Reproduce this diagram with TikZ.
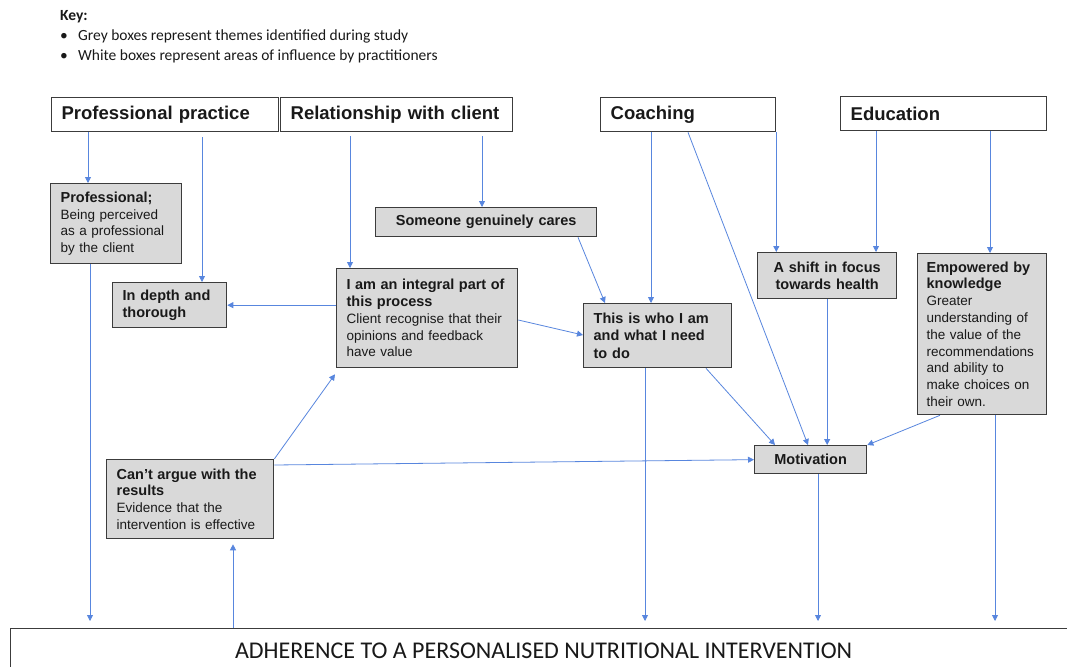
\documentclass[tikz,border=0pt]{standalone}
\usepackage{fontspec}
\setmainfont{Liberation Sans}
\newfontfamily\keyfont{Carlito}
\usetikzlibrary{arrows.meta,calc}
\definecolor{boxgrey}{RGB}{217,217,217}
\definecolor{edgegrey}{RGB}{60,60,60}
\definecolor{arrowblue}{RGB}{88,134,222}
\definecolor{ink}{RGB}{25,25,25}
\begin{document}
\begin{tikzpicture}[x=1pt,y=-1pt,
  wbox/.style={draw=edgegrey, line width=1.3pt, fill=white, anchor=north west, inner xsep=10pt, inner ysep=0pt, align=left, font=\bfseries\fontsize{18.5}{22}\selectfont, text=ink},
  gbox/.style={draw=edgegrey, line width=1.3pt, fill=boxgrey, anchor=north west, inner xsep=10pt, inner ysep=0pt, align=left, font=\fontsize{13.5}{16.8}\selectfont, text=ink},
  tbox/.style={gbox, font=\bfseries\fontsize{14.5}{17.5}\selectfont},
  arr/.style={draw=arrowblue, line width=0.8pt, -{Triangle[length=6pt,width=6pt]}},
  keytext/.style={anchor=base west, inner sep=0pt, font=\keyfont\fontsize{15.5}{18}\selectfont, text=ink},
]
\useasboundingbox (0,0) rectangle (1067,666);
\clip (0,0) rectangle (1067,666);
\fill[white] (0,0) rectangle (1067,666);

% key
\node[keytext, font=\keyfont\bfseries\fontsize{15.5}{18}\selectfont] (key) at (60,21) {Key:};
\node[keytext] (k1b) at (60,41) {•};
\node[keytext] (k1) at (78,41) {Grey boxes represent themes identified during study};
\node[keytext] (k2b) at (60,61) {•};
\node[keytext] (k2) at (78,61) {White boxes represent areas of influence by practitioners};

% white boxes
\node[wbox, minimum width=227pt, minimum height=34pt, text width=207pt] (pp) at (51,97) {Professional practice};
\node[wbox, minimum width=232pt, minimum height=34pt, text width=212pt] (rc) at (280,97) {Relationship with client};
\node[wbox, minimum width=175pt, minimum height=34pt, text width=155pt] (co) at (600,97) {Coaching};
\node[wbox, minimum width=206pt, minimum height=34pt, text width=186pt] (ed) at (840,96) {Education};

% grey boxes
\node[gbox, minimum width=131pt, minimum height=80pt, text width=111pt] (prof) at (50,183)
  {\textbf{\fontsize{14.5}{17}\selectfont Professional;}\\Being perceived\\as a professional\\by the client};
\node[tbox, minimum width=114pt, minimum height=45pt, text width=94pt] (dep) at (112,282)
  {In depth and\\thorough};
\node[tbox, minimum width=221pt, minimum height=29pt, text width=201pt, align=center] (sgc) at (375,207)
  {Someone genuinely cares};
\node[gbox, minimum width=181pt, minimum height=99pt, text width=161pt] (int) at (336,268)
  {\textbf{\fontsize{14.5}{17}\selectfont I am an integral part of}\\\textbf{\fontsize{14.5}{17}\selectfont this process}\\Client recognise that their\\opinions and feedback\\have value};
\node[tbox, minimum width=148pt, minimum height=64pt, text width=128pt] (who) at (583,303)
  {This is who I am\\and what I need\\to do};
\node[tbox, minimum width=139pt, minimum height=46pt, text width=119pt, align=center] (shift) at (757,252)
  {A shift in focus\\towards health};
\node[gbox, minimum width=129pt, minimum height=161pt, text width=111pt, inner xsep=9pt] (emp) at (917,253)
  {\textbf{\fontsize{14.5}{17}\selectfont Empowered by}\\\textbf{\fontsize{14.5}{17}\selectfont knowledge}\\Greater\\understanding of\\the value of the\\recommendations\\and ability to\\make choices on\\their own.};
\node[tbox, minimum width=112pt, minimum height=28pt, text width=92pt, align=center] (mot) at (754,445)
  {Motivation};
\node[gbox, minimum width=167pt, minimum height=79pt, text width=147pt] (cant) at (106,459)
  {\textbf{\fontsize{14.5}{17}\selectfont Can’t argue with the}\\\textbf{\fontsize{14.5}{17}\selectfont results}\\Evidence that the\\intervention is effective};

% outcome box
\node[draw=edgegrey, line width=1.3pt, fill=white, anchor=north west, minimum width=1066pt, minimum height=44pt, inner sep=0pt, font=\keyfont\fontsize{24}{28}\selectfont, text=ink] (adh) at (10,628)
  {ADHERENCE TO A PERSONALISED NUTRITIONAL INTERVENTION};

% connectors
\coordinate (a1) at ($(pp.south west)+(37,0)$);
\draw[arr] (a1) -- (a1 |- prof.north);
\coordinate (a2) at ($(pp.south west)+(151,0)$);
\draw[arr, shorten <=5pt] (a2) -- (a2 |- dep.north);
\coordinate (a3) at ($(prof.south west)+(40,0)$);
\draw[arr, shorten >=7pt] (a3) -- (a3 |- adh.north);
\coordinate (a4) at ($(rc.south west)+(70,0)$);
\draw[arr, shorten <=4pt] (a4) -- (a4 |- int.north);
\coordinate (a5) at ($(rc.south west)+(202,0)$);
\draw[arr, shorten <=4pt] (a5) -- (a5 |- sgc.north);
\draw[arr] ($(sgc.south west)+(203,0)$) -- ($(who.north west)+(22,0)$);
\draw[arr] ($(int.north east)+(0,52)$) -- ($(who.north west)+(0,32)$);
\draw[arr] (int.west |- dep.east) -- (dep.east);
\coordinate (a9) at ($(co.south west)+(51,0)$);
\draw[arr] (a9) -- (a9 |- who.north);
\draw[arr] ($(co.south west)+(88,0)$) -- ($(mot.north west)+(54,0)$);
\draw[arr] (co.south east) -- (co.south east |- shift.north);
\coordinate (a12) at ($(ed.south west)+(36,0)$);
\draw[arr] (a12) -- (a12 |- shift.north);
\coordinate (a13) at ($(ed.south west)+(150,0)$);
\draw[arr] (a13) -- (a13 |- emp.north);
\draw[arr] (shift.south) -- (shift.south |- mot.north);
\draw[arr] ($(who.south west)+(123,0)$) -- ($(mot.north west)+(21,0)$);
\coordinate (a16) at ($(who.south west)+(62,0)$);
\draw[arr, shorten >=7pt] (a16) -- (a16 |- adh.north);
\draw[arr] ($(emp.south west)+(23,0)$) -- (mot.north east);
\coordinate (a18) at ($(emp.south west)+(78,0)$);
\draw[arr, shorten >=7pt] (a18) -- (a18 |- adh.north);
\coordinate (a19) at ($(mot.south west)+(64,0)$);
\draw[arr, shorten >=7pt] (a19) -- (a19 |- adh.north);
\draw[arr] ($(cant.north east)+(0,6)$) -- (mot.west);
\draw[arr] (cant.north east) -- ($(int.south west)+(-1,6)$);
\coordinate (a22) at ($(adh.north west)+(223,0)$);
\draw[arr, shorten >=5pt] (a22) -- (a22 |- cant.south);
\end{tikzpicture}
\end{document}
